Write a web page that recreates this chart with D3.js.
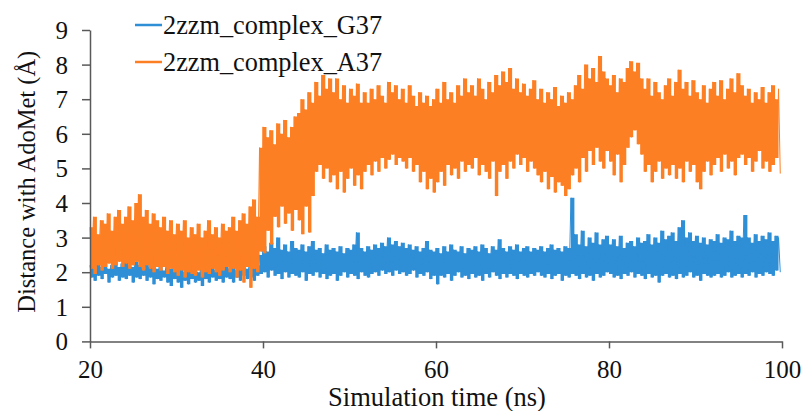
<!DOCTYPE html>
<html><head><meta charset="utf-8">
<script src="https://cdn.jsdelivr.net/npm/d3@7"></script>
<style>html,body{margin:0;padding:0;background:#fff;}svg{display:block;}</style>
</head><body><svg id="chart" width="803" height="411"></svg>
<script>
// Sampling: one high/low pair every 0.4 ns starting at 20 ns
const startNs = 20, stepNs = 0.4;
const xTicks = [20, 40, 60, 80, 100];
const yTicks = [0, 1, 2, 3, 4, 5, 6, 7, 8, 9];
const seriesNames = ["2zzm_complex_G37", "2zzm_complex_A37"];

const g37High = [
 2.2,2.1,2.3,2.15,2.25,2.1,2.2,2.3,2.15,2.25,
 2.3,2.2,2.15,2.3,2.2,2.1,2.25,2.15,2.2,2.1,
 2.15,2.05,2.2,2.1,2.15,2.05,2.1,2.0,2.15,2.05,
 2.1,2.0,2.15,2.05,2.1,2.2,2.05,2.1,2.15,2.2,
 2.1,2.2,2.05,2.15,2.2,2.1,2.25,2.15,2.2,2.5,
 2.75,2.6,2.85,2.7,3.0,2.65,2.8,2.6,2.9,2.7,
 2.65,2.8,2.6,2.75,2.9,2.65,2.7,2.55,2.8,2.65,
 2.7,2.6,2.75,2.55,2.7,2.65,2.8,3.15,2.7,2.6,
 2.75,2.65,2.8,2.7,2.85,2.75,3.0,2.8,2.9,2.75,
 2.85,2.7,2.8,2.65,2.75,2.6,2.7,2.9,2.65,2.6,
 2.7,2.55,2.75,2.6,2.8,2.65,2.6,2.75,2.55,2.7,
 2.65,2.75,2.6,2.8,2.7,2.55,2.75,2.65,2.95,2.7,
 2.6,2.75,2.65,2.8,2.6,2.7,2.75,2.6,2.7,2.65,
 2.75,2.6,2.7,2.8,2.65,2.7,2.6,2.75,2.7,4.15,
 3.1,2.8,3.2,2.75,3.0,2.85,3.15,2.8,2.95,3.05,
 2.8,2.95,2.75,3.05,2.7,2.85,2.9,2.75,3.0,2.85,
 2.9,3.1,2.8,3.0,2.85,3.2,2.95,3.05,3.15,2.9,
 3.3,3.5,3.0,3.15,2.9,3.05,2.85,3.0,2.8,2.95,
 2.9,3.1,2.85,3.0,2.95,3.2,2.9,3.05,3.0,3.65,
 3.0,2.85,3.1,2.9,3.05,2.95,3.15,2.9,3.05,3.0
];
const g37Low = [
 1.85,1.75,1.9,1.8,1.95,1.7,1.85,1.9,1.75,1.85,
 1.8,1.9,1.7,1.85,1.8,1.9,1.75,1.85,1.65,1.8,
 1.75,1.85,1.7,1.6,1.8,1.7,1.55,1.75,1.65,1.8,
 1.7,1.75,1.6,1.8,1.7,1.85,1.75,1.8,1.7,1.85,
 1.8,1.7,1.85,1.75,1.9,1.8,1.85,1.75,1.9,1.95,
 2.0,1.85,2.05,1.9,1.95,1.8,2.0,1.85,1.95,1.9,
 1.85,2.0,1.75,1.95,1.9,2.0,1.85,1.95,1.8,1.9,
 1.95,1.75,1.9,2.0,1.85,1.95,1.9,1.8,2.0,1.9,
 1.85,1.95,2.0,1.9,2.05,1.95,2.0,1.9,2.05,1.95,
 2.0,1.9,1.95,2.05,1.85,1.95,1.9,2.0,1.8,1.9,
 1.65,1.9,1.85,1.95,1.75,1.9,2.0,1.85,1.9,1.8,
 1.95,1.85,1.9,1.75,1.95,1.85,2.0,1.9,1.8,1.95,
 1.85,1.95,1.9,1.8,1.95,1.9,1.85,1.95,1.9,2.0,
 1.9,1.85,1.95,1.8,1.9,1.95,1.75,1.9,1.85,1.95,
 1.9,1.8,1.95,1.85,1.9,1.75,1.95,1.85,1.9,2.0,
 1.95,1.85,1.9,1.8,1.95,1.9,2.0,1.85,1.95,1.9,
 1.8,1.95,1.85,1.9,1.7,1.9,1.95,1.85,1.9,1.8,
 1.95,1.85,1.9,2.0,1.85,1.9,1.75,1.95,1.9,1.85,
 1.9,1.95,1.85,1.9,2.0,1.85,1.9,1.95,1.85,1.95,
 1.9,2.0,1.85,1.95,1.9,2.0,1.95,1.9,2.05,2.0
];
const a37High = [
 3.3,3.6,3.1,3.5,3.4,3.7,3.2,3.6,3.8,3.4,
 3.6,3.9,3.5,4.0,4.25,3.6,3.8,3.4,3.7,3.5,
 3.3,3.6,3.2,3.5,3.1,3.4,3.2,3.5,3.0,3.3,
 3.1,3.4,3.0,3.2,3.5,3.1,3.3,3.0,3.4,3.2,
 3.3,3.6,3.2,3.5,3.7,3.4,3.9,4.1,3.6,5.6,
 6.2,5.9,6.1,5.7,6.3,6.0,6.4,5.9,6.2,6.5,
 6.6,7.0,6.7,7.2,6.9,7.5,7.1,7.7,7.3,7.6,
 7.2,7.6,7.0,7.4,6.9,7.3,7.1,7.45,6.9,7.2,
 6.9,7.3,7.0,7.4,7.1,6.9,7.5,7.2,7.4,7.0,
 7.3,6.9,7.4,7.1,6.8,7.2,6.9,7.1,6.8,7.0,
 7.3,6.9,7.5,7.0,7.2,6.9,7.4,7.1,7.6,7.2,
 7.4,7.1,7.6,7.3,7.0,7.5,7.2,7.7,7.4,7.8,
 7.5,7.9,7.3,7.6,7.2,7.45,7.1,7.3,7.55,7.0,
 7.3,6.9,7.2,7.0,7.35,6.8,7.1,6.9,7.2,7.0,
 7.4,7.7,7.3,8.0,7.6,7.9,7.5,8.25,7.8,7.6,
 7.4,7.7,7.2,7.6,7.5,7.9,8.1,7.8,8.05,7.6,
 7.3,7.6,7.1,7.5,7.2,7.0,7.4,7.6,7.1,7.5,
 7.85,7.3,7.5,7.1,7.55,7.2,7.0,7.4,6.9,7.3,
 7.5,7.1,7.55,7.0,7.3,7.6,7.2,7.75,7.4,7.1,
 7.3,6.9,7.2,7.0,7.35,6.9,7.2,7.4,7.0,7.3
];
const a37Low = [
 2.1,1.95,2.2,2.05,2.15,2.25,2.1,2.2,2.3,2.15,
 2.25,2.1,2.2,2.3,2.15,2.05,2.2,2.1,2.0,2.15,
 2.05,2.15,1.95,2.1,2.0,1.9,2.05,1.85,2.0,1.95,
 1.9,2.05,1.85,2.0,1.95,2.1,2.0,1.9,2.05,2.15,
 2.0,2.1,1.85,2.05,1.7,2.15,1.55,2.1,2.0,2.6,
 2.55,3.2,2.8,3.6,3.3,3.9,3.4,3.7,3.2,3.8,
 3.5,3.1,3.9,3.15,4.2,4.9,5.1,4.7,5.0,4.6,
 4.8,4.4,4.9,4.3,4.7,5.0,4.5,4.8,4.4,4.9,
 5.1,4.8,5.2,4.9,5.3,5.0,5.25,5.4,5.1,5.3,
 5.2,5.0,5.3,4.9,5.1,4.6,4.9,4.4,4.7,4.3,
 4.6,4.9,4.5,5.1,4.8,5.0,4.7,5.2,4.9,5.1,
 5.0,5.3,4.8,5.1,4.9,4.7,5.2,4.2,4.9,5.1,
 4.7,5.2,5.0,5.4,5.1,5.3,4.9,5.2,5.0,4.8,
 4.6,4.9,4.4,4.75,4.3,4.6,4.5,4.2,4.4,4.8,
 5.0,4.6,5.3,4.9,5.5,5.1,5.6,5.2,5.0,5.5,
 5.2,4.8,5.4,4.6,5.1,5.6,5.9,6.1,5.7,5.4,
 4.9,5.1,4.6,4.9,5.2,4.7,5.0,4.8,5.1,4.7,
 5.0,4.6,5.2,4.9,5.1,4.6,4.4,4.9,5.2,4.8,
 5.1,5.3,4.9,5.4,5.0,5.2,4.8,5.3,5.4,5.1,
 5.3,4.9,5.2,5.5,5.0,5.2,4.9,5.1,5.3,4.85
];
const seriesColors = ["#2f8fd6", "#fd7f24"];

// Zig-zag trace: high at t, low at t + half step
function trace(high, low) {
  const pts = [];
  high.forEach((h, i) => {
    const t = startNs + i * stepNs;
    pts.push([t, h]);
    pts.push([t + stepNs / 2, low[i]]);
  });
  return pts;
}
// Band table: t, low, high
function band(high, low) {
  return high.map((h, i) => ({t: startNs + i * stepNs, lo: low[i], hi: h}));
}
const traces = [trace(g37High, g37Low), trace(a37High, a37Low)];
const bands = [band(g37High, g37Low), band(a37High, a37Low)];

const svg = d3.select("#chart");
const margin = {left: 90, right: 21, top: 30, bottom: 69.6};
const W = 803, H = 411;
const x = d3.scaleLinear().domain([20, 100]).range([margin.left, W - margin.right]);
const y = d3.scaleLinear().domain([0, 9]).range([H - margin.bottom, margin.top]);

const axisColor = "#595959";
const font = "'Liberation Serif', 'Times New Roman', serif";

// Series (G37 first, A37 on top)
const line = d3.line().x(d => x(d[0])).y(d => y(d[1]));
const area = d3.area().curve(d3.curveStepAfter).x(d => x(d.t)).y0(d => y(d.lo)).y1(d => y(d.hi));
traces.forEach((s, i) => {
  const g = svg.append("g");
  g.append("path").datum(bands[i])
    .attr("d", area)
    .attr("fill", seriesColors[i])
    .attr("stroke", "none");
  g.append("path").datum(s)
    .attr("d", line)
    .attr("fill", "none")
    .attr("stroke", seriesColors[i])
    .attr("stroke-width", 1)
    .attr("stroke-linejoin", "miter");
});

// Axes
const xAxis = svg.append("g")
  .attr("transform", `translate(0,${y(0)})`)
  .call(d3.axisBottom(x).tickValues(xTicks).tickSize(7).tickPadding(6).tickSizeOuter(0));
const yAxis = svg.append("g")
  .attr("transform", `translate(${x(20)},0)`)
  .call(d3.axisLeft(y).tickValues(yTicks).tickSize(8).tickPadding(14).tickSizeOuter(0));
[xAxis, yAxis].forEach(g => {
  g.selectAll("path, line").attr("stroke", axisColor).attr("stroke-width", 1.5);
  g.selectAll("text").attr("fill", "#111").style("font-family", font).style("font-size", "25px");
});
xAxis.selectAll("text").attr("dy", "0.95em");
yAxis.selectAll("text").attr("dy", "0.34em");

// Axis titles
svg.append("text")
  .attr("x", 437).attr("y", 406)
  .attr("text-anchor", "middle")
  .style("font-family", font).style("font-size", "26.5px").attr("fill", "#111")
  .text("Simulation time (ns)");
svg.append("text")
  .attr("transform", `translate(35,${y(4.5) - 4}) rotate(-90)`)
  .attr("text-anchor", "middle")
  .style("font-family", font).style("font-size", "24.5px").attr("fill", "#111")
  .text("Distance with AdoMet (Å)");

// Legend
const legendY = [25, 62];
seriesNames.forEach((name, i) => {
  svg.append("line")
    .attr("x1", 135).attr("x2", 162)
    .attr("y1", legendY[i]).attr("y2", legendY[i])
    .attr("stroke", seriesColors[i]).attr("stroke-width", 2.5);
  svg.append("text")
    .attr("x", 163).attr("y", legendY[i] + 8.5)
    .style("font-family", font).style("font-size", "26.3px").attr("fill", "#111")
    .text(name);
});
</script>
</body></html>
